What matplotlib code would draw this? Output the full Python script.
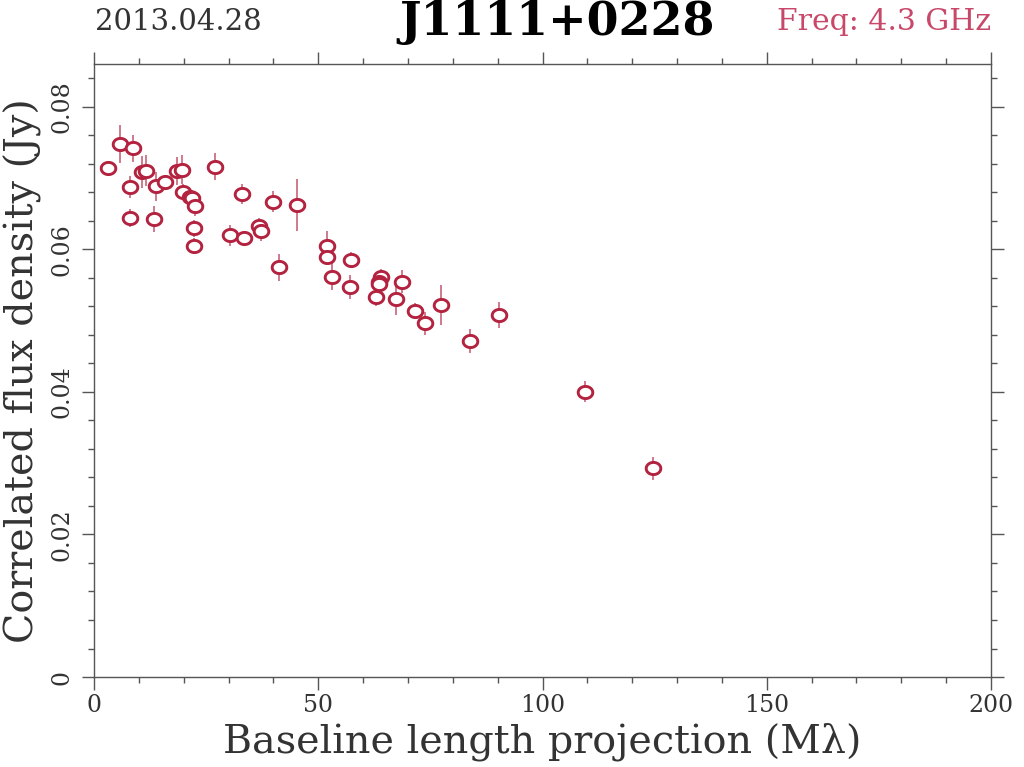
import numpy as np
import matplotlib
matplotlib.use("Agg")
import matplotlib.pyplot as plt
from matplotlib.path import Path
from matplotlib.ticker import MultipleLocator

# baseline length projection (M lambda), correlated flux (Jy), error (Jy)
baseline = [3.05, 5.73, 8.76, 7.96, 8.09, 10.77, 11.53, 13.89, 13.38, 15.90,
            18.51, 19.62, 19.84, 21.34, 21.78, 22.59, 22.23, 22.23, 27.05, 30.32,
            33.00, 33.51, 36.79, 37.17, 39.84, 41.18, 45.33, 52.02, 52.02, 53.00,
            57.30, 57.15, 62.94, 63.92, 63.55, 63.48, 67.27, 68.78, 71.64, 73.85,
            77.37, 83.90, 90.30, 109.48, 124.70]
flux = [0.07134, 0.07477, 0.07420, 0.06873, 0.06442, 0.07084, 0.07102, 0.06882, 0.06424, 0.06947,
        0.07098, 0.07116, 0.06803, 0.06737, 0.06713, 0.06611, 0.06298, 0.06049, 0.07158, 0.06194,
        0.06775, 0.06161, 0.06330, 0.06250, 0.06667, 0.05750, 0.06620, 0.06053, 0.05899, 0.05614,
        0.05857, 0.05474, 0.05329, 0.05610, 0.05544, 0.05509, 0.05305, 0.05544, 0.05141, 0.04964,
        0.05221, 0.04716, 0.05081, 0.04004, 0.02929]
flux_err = [0.0011, 0.0026, 0.0019, 0.0015, 0.0013, 0.0022, 0.0022, 0.0020, 0.0018, 0.0010,
            0.0019, 0.0020, 0.0011, 0.0011, 0.0011, 0.0014, 0.0012, 0.0011, 0.0019, 0.0015,
            0.0014, 0.0008, 0.0011, 0.0014, 0.0015, 0.0019, 0.0036, 0.0020, 0.0011, 0.0019,
            0.0011, 0.0017, 0.0013, 0.0011, 0.0011, 0.0011, 0.0022, 0.0016, 0.0011, 0.0016,
            0.0028, 0.0017, 0.0018, 0.0015, 0.0016]

source = "J1111+0228"
obs_date = "2013.04.28"
freq_text = "Freq: 4.3 GHz"

mark_col = "#b3223f"
err_col = "#c4566f"
text_col = "#333333"

# slightly wide ellipse marker
t = np.linspace(0, 2 * np.pi, 60)
ell = Path(np.column_stack([1.2 * np.cos(t), np.sin(t)]), closed=True)

fig = plt.figure(figsize=(10.24, 7.67), dpi=100)
ax = fig.add_axes([0.0918, 0.1173, 0.8760, 0.7993])

ax.errorbar(baseline, flux, yerr=flux_err, fmt="none", ecolor=err_col,
            elinewidth=1.1, capsize=0, zorder=2)
ax.plot(baseline, flux, linestyle="none", marker=ell, markersize=10.5,
        markerfacecolor="white", markeredgecolor=mark_col, markeredgewidth=2.1,
        zorder=3)

ax.set_xlim(0, 200)
ax.set_ylim(0, 0.086)
ax.xaxis.set_major_locator(MultipleLocator(50))
ax.xaxis.set_minor_locator(MultipleLocator(10))
ax.yaxis.set_major_locator(MultipleLocator(0.02))
ax.yaxis.set_minor_locator(MultipleLocator(0.004))
ax.yaxis.set_major_formatter(plt.FuncFormatter(lambda v, p: "0" if v == 0 else f"{v:.2f}"))

for s in ax.spines.values():
    s.set_color("#555555")
    s.set_linewidth(1.0)
ax.tick_params(which="both", direction="out", colors="#555555", width=1.0,
               top=True, right=True, labelcolor=text_col, labelsize=17)
ax.tick_params(which="major", length=9)
ax.tick_params(which="minor", length=4.5)
ax.tick_params(axis="y", pad=6)
for lab in ax.get_xticklabels() + ax.get_yticklabels():
    lab.set_family("DejaVu Serif")
for lab in ax.get_yticklabels():
    lab.set_rotation(90)
    lab.set_va("center")

ax.set_xlabel("Baseline length projection (M\u03bb)", fontsize=28.5, family="DejaVu Serif",
              color=text_col, labelpad=4)
ax.set_ylabel("Correlated flux density (Jy)", fontsize=28.5, family="DejaVu Serif",
              color=text_col, labelpad=6)

fig.text(0.093, 0.971, obs_date, fontsize=21, family="DejaVu Serif", color=text_col,
         ha="left", va="center")
fig.text(0.544, 0.971, source, fontsize=33, family="DejaVu Serif", weight="bold",
         color="black", ha="center", va="center")
fig.text(0.968, 0.971, freq_text, fontsize=21.5, family="DejaVu Serif", color="#c8486a",
         ha="right", va="center")

fig.savefig("out.png", dpi=100)
